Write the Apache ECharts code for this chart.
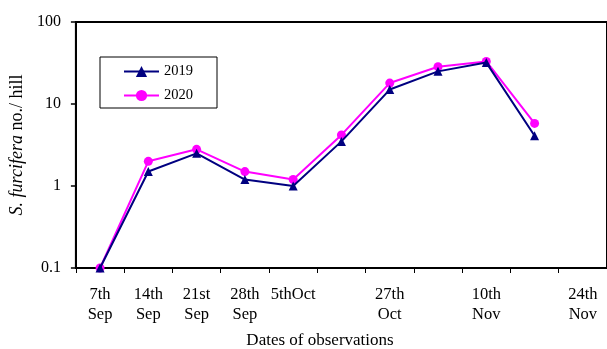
<!DOCTYPE html>
<html>
<head>
<meta charset="utf-8">
<script src="https://cdn.jsdelivr.net/npm/echarts@6/dist/echarts.min.js"></script>
<style>
  html, body { margin: 0; padding: 0; background: #fff; }
  #chart { width: 607px; height: 349px; }
</style>
</head>
<body>
<div id="chart"></div>
<script>
// Observation dates shown on the category axis (blank slots are unlabelled dates)
var categories = ['7th\nSep', '14th\nSep', '21st\nSep', '28th\nSep', '5thOct', '',
                  '27th\nOct', '', '10th\nNov', '', '24th\nNov'];
// Mean S. furcifera count per hill
var values2019 = [0.1, 1.5, 2.5, 1.2, 1.0, 3.5, 15, 25, 32, 4.1];
var values2020 = [0.1, 2.0, 2.8, 1.5, 1.2, 4.2, 18, 28.5, 33, 5.8];
var yTicks = [0.1, 1, 10, 100];

var serif = 'Liberation Serif, Times New Roman, serif';
var chart = echarts.init(document.getElementById('chart'), null, { renderer: 'canvas' });

chart.setOption({
  animation: false,
  backgroundColor: '#fff',
  textStyle: { fontFamily: serif, color: '#000' },
  title: {
    text: 'Dates of observations',
    left: 320,
    top: 331,
    padding: 0,
    textAlign: 'center',
    textStyle: { fontFamily: serif, fontSize: 17, fontWeight: 'normal', color: '#000', lineHeight: 20 }
  },
  grid: {
    left: 74, top: 22, right: -5, bottom: 81,
    show: true, borderColor: '#000', borderWidth: 2, backgroundColor: 'transparent'
  },
  legend: {
    orient: 'vertical',
    left: 100, top: 57,
    padding: [7, 24, 5, 23],
    itemGap: 9,
    itemWidth: 35, itemHeight: 14,
    borderColor: '#000', borderWidth: 1,
    textStyle: { fontFamily: serif, fontSize: 14.5, color: '#000' },
    data: ['2019', '2020']
  },
  xAxis: {
    type: 'category',
    data: categories,
    boundaryGap: true,
    axisLine: { lineStyle: { color: '#000', width: 2 } },
    axisTick: { show: true, interval: 0, length: 5, lineStyle: { color: '#000', width: 1 } },
    axisLabel: {
      interval: 0, margin: 17, fontFamily: serif, fontSize: 16.5, color: '#000', lineHeight: 20
    },
    splitLine: { show: false }
  },
  yAxis: {
    type: 'log',
    logBase: 10,
    min: yTicks[0],
    max: yTicks[yTicks.length - 1],
    name: '{i|S. furcifera} no./ hill',
    nameLocation: 'middle',
    nameGap: 45,
    nameTextStyle: {
      fontFamily: serif, fontSize: 18, color: '#000',
      rich: { i: { fontStyle: 'italic', fontFamily: serif, fontSize: 18, color: '#000' } }
    },
    axisLine: { show: true, lineStyle: { color: '#000', width: 2 } },
    axisTick: { show: true, length: 5, lineStyle: { color: '#000', width: 1.5 } },
    minorTick: { show: false },
    axisLabel: {
      margin: 15, fontFamily: serif, fontSize: 16, color: '#000',
      formatter: function (v) { return String(+v.toPrecision(3)); }
    },
    splitLine: { show: false }
  },
  series: [
    {
      name: '2019', type: 'line', data: values2019,
      symbol: 'triangle', symbolSize: 9,
      lineStyle: { color: '#000080', width: 2 },
      itemStyle: { color: '#000080' },
      z: 3
    },
    {
      name: '2020', type: 'line', data: values2020,
      symbol: 'circle', symbolSize: 9,
      lineStyle: { color: '#FF00FF', width: 2 },
      itemStyle: { color: '#FF00FF' },
      z: 2
    }
  ]
});
</script>
</body>
</html>
